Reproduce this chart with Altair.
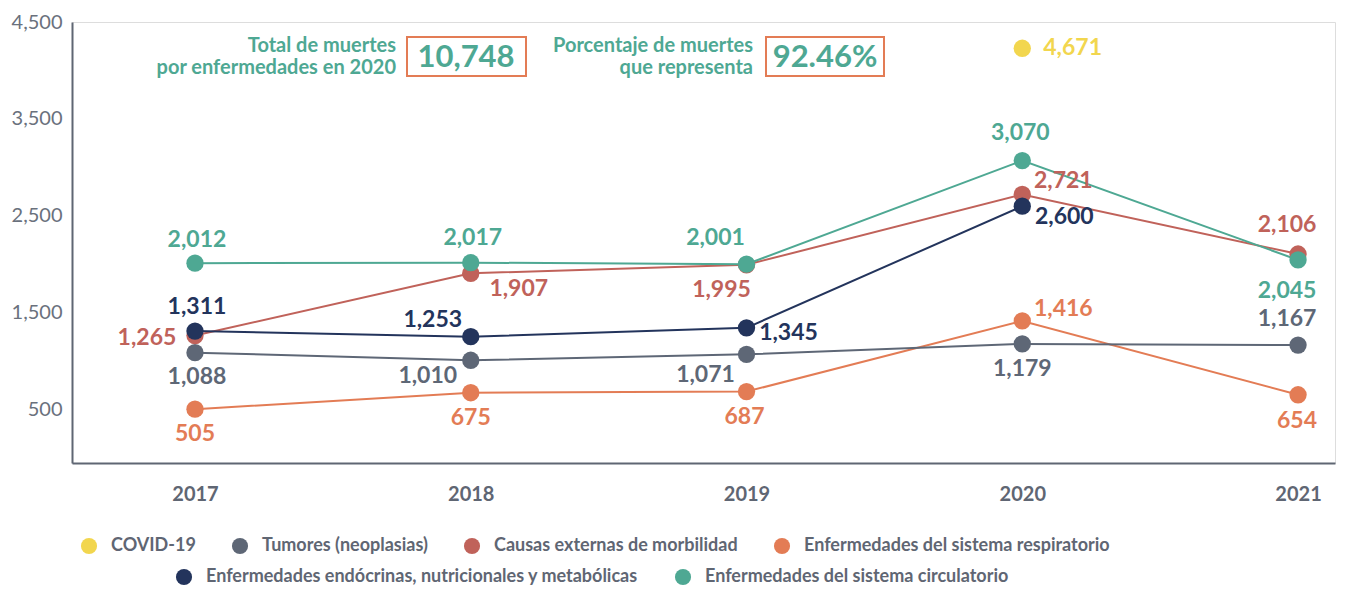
import altair as alt
import pandas as pd

# ---------------- data ----------------
years = [2017, 2018, 2019, 2020, 2021]
tumores = [1088, 1010, 1071, 1179, 1167]
causas = [1265, 1907, 1995, 2721, 2106]
respiratorio = [505, 675, 687, 1416, 654]
endocrinas_years = [2017, 2018, 2019, 2020]
endocrinas = [1311, 1253, 1345, 2600]
circulatorio = [2012, 2017, 2001, 3070, 2045]
covid_years = [2020]
covid = [4671]
total_2020 = 10748
porcentaje = 92.46
y_ticks = [500, 1500, 2500, 3500, 4500]

N_COVID = "COVID-19"
N_TUM = "Tumores (neoplasias)"
N_CAU = "Causas externas de morbilidad"
N_RES = "Enfermedades del sistema respiratorio"
N_END = "Enfermedades endócrinas, nutricionales y metabólicas"
N_CIR = "Enfermedades del sistema circulatorio"

# ---------------- styles ----------------
COL = {
    N_COVID: "#f2d64e",
    N_TUM: "#5e6776",
    N_CAU: "#c0625a",
    N_RES: "#e37c55",
    N_END: "#23345c",
    N_CIR: "#4ea893",
}
GRAY = "#5f6673"
TEAL = "#4ea893"
BOX = "#e37c55"
FONT = "Lato"

# label offsets in pixels (dx, dy) per series & year
label_offsets = {
    N_TUM: [(2, 24), (-43, 16), (-41, 21), (0, 25), (-11, -26)],
    N_CAU: [(-48, 2), (48, 16), (-25, 25), (41, -13), (-11, -29)],
    N_RES: [(0, 25), (0, 25), (-2, 25), (41, -12), (-1, 26)],
    N_END: [(2, -24), (-38, -17), (42, 5), (42, 11)],
    N_CIR: [(2, -23), (2, -25), (-31, -26), (-2, -28), (-11, 31)],
    N_COVID: [(21, 0)],
}

series_data = [
    (N_RES, years, respiratorio, "A"),
    (N_TUM, years, tumores, "A"),
    (N_CAU, years, causas, "A"),
    (N_CIR, years, circulatorio, "B"),
    (N_END, endocrinas_years, endocrinas, "B"),
]

rows = []
for name, yrs, vals, grp in series_data:
    for i, (yr, v) in enumerate(zip(yrs, vals)):
        dx, dy = label_offsets[name][i]
        rows.append(dict(series=name, year=yr, value=v, label=f"{v:,}",
                         hex=COL[name], dx=dx, dy=dy, group=grp))
df = pd.DataFrame(rows)

covid_df = pd.DataFrame(dict(series=[N_COVID] * len(covid), year=covid_years,
                             value=covid, label=[f"{v:,}" for v in covid],
                             hex=[COL[N_COVID]] * len(covid)))

groupA = [N_COVID, N_TUM, N_CAU, N_RES]
groupB = [N_END, N_CIR]

# ---------------- encodings ----------------
x_enc = alt.X(
    "year:Q",
    scale=alt.Scale(domain=[2016.554, 2021.134], nice=False, zero=False),
    axis=alt.Axis(values=years, labelExpr="format(datum.value, 'd')", title=None,
                  ticks=False, grid=False,
                  domainColor=GRAY, domainWidth=2, labelFont=FONT,
                  labelFontWeight="bold", labelFontSize=20, labelColor=GRAY,
                  labelPadding=21, labelBaseline="top"),
)
y_scale = alt.Scale(domain=[-50, 4500], nice=False, zero=False)
y_axis = alt.Y(
    "value:Q", scale=y_scale,
    axis=alt.Axis(values=y_ticks, labelExpr="format(datum.value, ',')", title=None,
                  ticks=False, grid=False,
                  domainColor=GRAY, domainWidth=2, labelFont=FONT,
                  labelFontSize=20, labelColor="#6a717d", labelPadding=10),
)
y_plain = alt.Y("value:Q", scale=y_scale, axis=None)
# the COVID point sits in the header band, above the other series
y_covid = alt.Y("value:Q", scale=alt.Scale(domain=[-50, 4970], nice=False, zero=False), axis=None)

legend_common = dict(orient="none", direction="horizontal", title=None,
                     symbolType="circle", symbolSize=260, symbolStrokeWidth=0,
                     labelFont=FONT, labelFontWeight="bold", labelFontSize=18,
                     labelColor=GRAY, labelOffset=13, columnPadding=35,
                     labelLimit=700, symbolOpacity=1)
legendA = alt.Legend(legendX=8, legendY=515, **legend_common)
legendB = alt.Legend(legendX=103, legendY=546, **legend_common)

base = alt.Chart(df)

lines = base.mark_line(strokeWidth=2).encode(
    x=x_enc, y=y_axis,
    color=alt.Color("hex:N", scale=None),
    detail="series:N", order="year:Q",
)

points_a = base.transform_filter(alt.datum.group == "A").mark_circle(size=300, opacity=1).encode(
    x=x_enc, y=y_plain,
    color=alt.Color("series:N",
                    scale=alt.Scale(domain=groupA, range=[COL[n] for n in groupA]),
                    legend=legendA),
)

points_b = base.transform_filter(alt.datum.group == "B").mark_circle(size=300, opacity=1).encode(
    x=x_enc, y=y_plain,
    fill=alt.Fill("series:N",
                  scale=alt.Scale(domain=groupB, range=[COL[n] for n in groupB]),
                  legend=legendB),
)

# value labels: one text layer per pixel offset
label_layers = []
for (dx, dy), sub in df.groupby(["dx", "dy"]):
    label_layers.append(
        alt.Chart(sub.drop(columns=["dx", "dy"])).mark_text(
            font=FONT, fontWeight="bold", fontSize=23, baseline="middle",
            align="center", dx=int(dx), dy=int(dy)).encode(
            x=x_enc, y=y_plain, text="label:N",
            color=alt.Color("hex:N", scale=None))
    )

covid_base = alt.Chart(covid_df)
covid_point = covid_base.mark_circle(size=300, opacity=1).encode(
    x=x_enc, y=y_covid,
    color=alt.Color("series:N",
                    scale=alt.Scale(domain=groupA, range=[COL[n] for n in groupA]),
                    legend=legendA),
)
cdx, cdy = label_offsets[N_COVID][0]
covid_label = covid_base.mark_text(font=FONT, fontWeight="bold", fontSize=23,
                                   baseline="middle", align="left",
                                   dx=cdx, dy=cdy).encode(
    x=x_enc, y=y_covid, text="label:N",
    color=alt.Color("hex:N", scale=None),
)

# ---------------- header annotations ----------------
ann_df = pd.DataFrame({"k": [0]})
ann = alt.Chart(ann_df)
t1 = ann.mark_text(font=FONT, fontWeight="bold", fontSize=20, color=TEAL,
                   align="right", baseline="middle", lineHeight=22).encode(
    x=alt.value(324), y=alt.value(24),
    text=alt.value(["Total de muertes", "por enfermedades en 2020"]))
t2 = ann.mark_text(font=FONT, fontWeight="bold", fontSize=20, color=TEAL,
                   align="right", baseline="middle", lineHeight=22).encode(
    x=alt.value(681), y=alt.value(24),
    text=alt.value(["Porcentaje de muertes", "que representa"]))
v1 = ann.mark_text(font=FONT, fontWeight="bold", fontSize=31, color=TEAL,
                   align="center", baseline="middle").encode(
    x=alt.value(394), y=alt.value(36), text=alt.value(f"{total_2020:,}"))
v2 = ann.mark_text(font=FONT, fontWeight="bold", fontSize=31, color=TEAL,
                   align="center", baseline="middle").encode(
    x=alt.value(753), y=alt.value(36), text=alt.value(f"{porcentaje:.2f}%"))
b1 = ann.mark_rect(fill="white", fillOpacity=0, stroke=BOX, strokeWidth=2).encode(
    x=alt.value(335), x2=alt.value(454), y=alt.value(15), y2=alt.value(54))
b2 = ann.mark_rect(fill="white", fillOpacity=0, stroke=BOX, strokeWidth=2).encode(
    x=alt.value(694), x2=alt.value(812), y=alt.value(15), y2=alt.value(54))

chart = alt.layer(
    lines, points_a, points_b, *label_layers, covid_point, covid_label,
    b1, b2, t1, t2, v1, v2,
).resolve_scale(y="independent").properties(
    width=1263, height=441,
    autosize=alt.AutoSizeParams(type="none"),
    padding={"left": 64, "top": 14, "right": 3, "bottom": 126},
).configure_view(stroke=None).configure(background="white")

chart.save("out.html", embed_options={"renderer": "svg", "actions": False})
